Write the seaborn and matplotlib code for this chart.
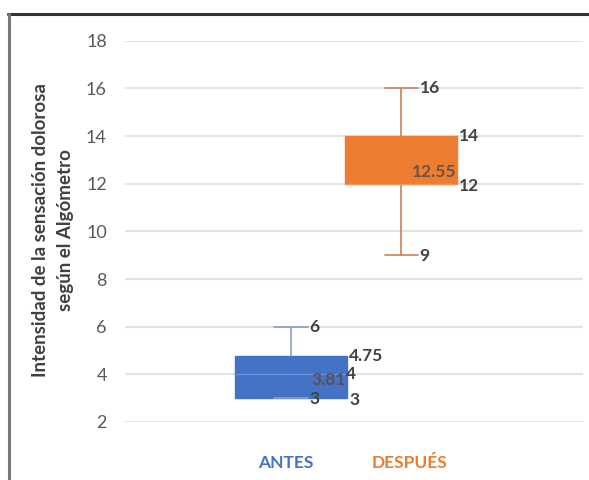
import numpy as np
import seaborn as sns
import matplotlib.pyplot as plt
from matplotlib.transforms import blended_transform_factory
from matplotlib.lines import Line2D

# summary statistics
groups = ['ANTES', 'DESPUÉS']
minimum = [3, 9]
q1 = [3, 12]
median = [4, 12]
q3 = [4.75, 14]
maximum = [6, 16]
mean = [3.81, 12.55]
yticks = [2, 4, 6, 8, 10, 12, 14, 16, 18]

box_colors = ['#4472C4', '#ED7D31']
whisker_colors = ['#8C9BC9', '#C9825A']
median_colors = ['#6C8FD6', '#F29A5C']
label_color = '#404040'

sns.set_style('white')
plt.rcParams['font.family'] = ['Lato', 'DejaVu Sans']

fig = plt.figure(figsize=(5.89, 4.8), dpi=100)
ax = fig.add_axes([0.212, 0.121, 0.778, 0.794])

pos = [-0.5, 0.5]
stats = []
for i, g in enumerate(groups):
    stats.append(dict(label=g, whislo=minimum[i], q1=q1[i], med=median[i],
                      q3=q3[i], whishi=maximum[i], mean=mean[i], fliers=[]))

for i in range(len(groups)):
    ax.bxp([stats[i]], positions=[pos[i]], widths=1.02, capwidths=0.3,
           patch_artist=True, showmeans=False, manage_ticks=False,
           boxprops=dict(facecolor=box_colors[i], edgecolor=box_colors[i], linewidth=1),
           whiskerprops=dict(color=whisker_colors[i], linewidth=1.2),
           capprops=dict(color=whisker_colors[i], linewidth=1.2),
           medianprops=dict(color=median_colors[i], linewidth=1))

# data labels
lab = dict(color=label_color, fontsize=12.5, fontweight='bold', va='center')
for i in range(len(groups)):
    x = pos[i]
    ax.text(x + 0.17, maximum[i], str(maximum[i]), ha='left', **lab)
    ax.text(x + 0.17, minimum[i] - 0.05, str(minimum[i]), ha='left', **lab)
    ax.text(x + 0.53, q3[i], f'{q3[i]:g}', ha='left', **lab)
    ax.text(x + 0.53, q1[i] - 0.1, f'{q1[i]:g}', ha='left', **lab)
    if median[i] != q1[i]:
        ax.text(x + 0.50, median[i], f'{median[i]:g}', ha='left', **lab)
    ax.text(x + 0.50, mean[i] - 0.05, f'{mean[i]:g}', ha='right',
            color='#5a4a4a', fontsize=12.5, fontweight='bold', va='center', alpha=0.85)

ax.set_ylim(2, 18)
ax.set_xlim(-2.01, 2.155)
ax.set_yticks(yticks)
ax.set_xticks([])
ax.yaxis.grid(True, color='#e3e3e3', linewidth=1.5)
ax.set_axisbelow(True)
for s in ax.spines.values():
    s.set_visible(False)
ax.tick_params(axis='y', length=0, pad=13, labelsize=13, labelcolor='#595959')

fig.text(0.09, 0.52, 'Intensidad de la sensación dolorosa\nsegún el Algómetro',
         rotation=90, ha='center', va='center', fontsize=13.5, fontweight='bold',
         color=label_color, linespacing=1.55)

# legend text under the boxes
tr = blended_transform_factory(ax.transData, fig.transFigure)
ax.text(pos[0] - 0.05, 0.035, groups[0], transform=tr, ha='center', va='center',
        color=box_colors[0], fontsize=12.5, fontweight='bold')
ax.text(pos[1] + 0.08, 0.035, groups[1], transform=tr, ha='center', va='center',
        color=box_colors[1], fontsize=12.5, fontweight='bold')

# frame around the chart
fig.add_artist(Line2D([0.014, 1.0], [0.970, 0.970], color='#333333', linewidth=2.2))
fig.add_artist(Line2D([0.016, 0.016], [0.0, 0.970], color='#777777', linewidth=2.2))

fig.savefig('out.png', dpi=100)
